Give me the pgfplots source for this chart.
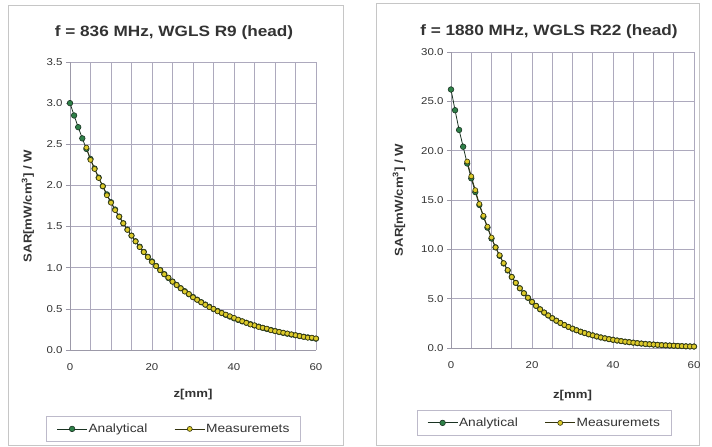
\documentclass[border=0pt]{standalone}
\usepackage{fontspec}
\setmainfont[FakeStretch=1.15]{Liberation Sans}
\usepackage{pgfplots}
\pgfplotsset{compat=1.18}
\usepackage{pgfplotstable}

\definecolor{anagreen}{HTML}{2E8048}
\definecolor{anaedge}{HTML}{1A3322}
\definecolor{measyel}{HTML}{DCCB2A}
\definecolor{measedge}{HTML}{33330F}
\definecolor{gridgray}{HTML}{ADA9BD}
\definecolor{axgray}{HTML}{9C99A8}
\definecolor{txtgray}{HTML}{333333}

% left panel: 836 MHz
\pgfplotstableread{
z ana meas
0 3.000 nan
1 2.850 nan
2 2.708 nan
3 2.572 nan
4 2.444 2.46
5 2.321 2.31
6 2.205 2.20
7 2.095 2.09
8 1.990 1.99
9 1.891 1.88
10 1.796 1.79
11 1.707 1.70
12 1.621 1.62
13 1.540 1.54
14 1.463 1.46
15 1.390 1.39
16 1.321 1.32
17 1.255 1.25
18 1.192 1.19
19 1.132 1.13
20 1.076 1.07
21 1.022 1.02
22 0.971 0.97
23 0.922 0.92
24 0.876 0.88
25 0.832 0.83
26 0.791 0.79
27 0.751 0.75
28 0.714 0.71
29 0.678 0.68
30 0.644 0.64
31 0.612 0.61
32 0.581 0.58
33 0.552 0.55
34 0.525 0.52
35 0.498 0.50
36 0.474 0.47
37 0.450 0.45
38 0.427 0.43
39 0.406 0.41
40 0.386 0.39
41 0.366 0.37
42 0.348 0.35
43 0.331 0.33
44 0.314 0.31
45 0.298 0.30
46 0.284 0.28
47 0.269 0.27
48 0.256 0.26
49 0.243 0.24
50 0.231 0.23
51 0.219 0.22
52 0.208 0.21
53 0.198 0.20
54 0.188 0.19
55 0.179 0.18
56 0.170 0.17
57 0.161 0.16
58 0.153 0.15
59 0.146 0.15
60 0.138 0.14
}\tableleft

% right panel: 1880 MHz
\pgfplotstableread{
z ana meas
0 26.20 nan
1 24.10 nan
2 22.10 nan
3 20.40 nan
4 18.70 18.9
5 17.20 17.4
6 15.80 16.0
7 14.50 14.6
8 13.30 13.4
9 12.20 12.3
10 11.10 11.2
11 10.20 10.2
12 9.35 9.40
13 8.57 8.60
14 7.86 7.90
15 7.20 7.20
16 6.60 6.60
17 6.05 6.05
18 5.55 5.55
19 5.09 5.10
20 4.67 4.67
21 4.27 4.27
22 3.92 3.92
23 3.59 3.60
24 3.30 3.30
25 3.02 3.02
26 2.77 2.77
27 2.54 2.54
28 2.33 2.33
29 2.14 2.14
30 1.96 1.96
31 1.80 1.80
32 1.65 1.65
33 1.52 1.52
34 1.39 1.39
35 1.28 1.28
36 1.17 1.17
37 1.07 1.07
38 0.98 0.98
39 0.90 0.90
40 0.83 0.83
41 0.76 0.76
42 0.70 0.70
43 0.64 0.64
44 0.59 0.59
45 0.54 0.54
46 0.49 0.49
47 0.45 0.45
48 0.41 0.41
49 0.38 0.38
50 0.35 0.35
51 0.32 0.32
52 0.29 0.29
53 0.27 0.27
54 0.25 0.25
55 0.23 0.23
56 0.21 0.21
57 0.19 0.19
58 0.17 0.17
59 0.16 0.16
60 0.15 0.15
}\tableright

\pgfplotsset{
  sarpanel/.style={
    scale only axis,
    anchor=south west,
    xmin=0, xmax=60, ymin=0,
    axis lines*=left,
    axis line style={draw=axgray, line width=0.7pt},
    xtick={0,20,40,60},
    minor x tick num=3,
    grid=both,
    major grid style={gridgray, line width=0.7pt},
    minor grid style={gridgray, line width=0.7pt},
    xtick style={draw=none},
    minor tick length=0pt,
    ytick style={draw=axgray, line width=0.7pt},
    tick align=outside,
    major tick length=4bp,
    ticklabel style={font=\fontsize{10}{11}\selectfont, text=txtgray},
    yticklabel style={/pgf/number format/.cd, fixed, fixed zerofill, precision=1, assume math mode=true},
    xticklabel style={/pgf/number format/assume math mode=true, yshift=-6bp},
    label style={font=\fontsize{11.5}{13}\selectfont\bfseries, text=txtgray},
    clip=false,
    legend columns=2,
    legend cell align=left,
    legend style={font=\fontsize{12}{13}\selectfont, text=txtgray, draw=gridgray!80, line width=0.7pt,
      anchor=center, /tikz/every even column/.append style={column sep=26bp},
      inner xsep=10bp, inner ysep=5bp,
      nodes={inner xsep=1bp}},
    legend image code/.code={\draw[mark repeat=2,mark phase=2] plot coordinates {(0bp,0bp)(15bp,0bp)(30bp,0bp)};},
  },
  anastyle/.style={color=anaedge, line width=0.8pt, mark=*, mark size=2.8bp,
    mark options={fill=anagreen, draw=anaedge, line width=0.6pt}},
  measstyle/.style={color=measedge, line width=0.8pt, mark=*, mark size=2.5bp,
    mark options={fill=measyel, draw=measedge, line width=0.6pt}},
}

\begin{document}
\begin{tikzpicture}
\path (0bp,0bp) rectangle (712bp,447bp);
\draw[gray!45, line width=0.8pt] (8bp,2bp) rectangle (343bp,442bp);
\draw[gray!45, line width=0.8pt] (376bp,2bp) rectangle (699bp,444bp);

\node[font=\fontsize{15}{17}\selectfont\bfseries, text=txtgray] at (174bp,414bp) {f = 836 MHz, WGLS R9 (head)};
\node[font=\fontsize{15}{17}\selectfont\bfseries, text=txtgray] at (549bp,415bp) {f = 1880 MHz, WGLS R22 (head)};

\begin{axis}[sarpanel,
    at={(70bp,97bp)}, width=246bp, height=288bp,
    ymax=3.5, ytick={0,0.5,...,3.5},
    xlabel={z[mm]}, ylabel={SAR[mW/cm\textsuperscript{3}] / W},
    xlabel style={at={(axis description cs:0.5,-0.156)}, anchor=center},
    ylabel style={at={(axis description cs:-0.171,0.5)}, anchor=center},
    legend style={at={(0.421,-0.274)}},
]
\addplot[anastyle] table[x=z, y=ana] {\tableleft};
\addlegendentry{Analytical}
\addplot[measstyle] table[x=z, y=meas] {\tableleft};
\addlegendentry{Measuremets}
\end{axis}

\begin{axis}[sarpanel,
    at={(451bp,99bp)}, width=243bp, height=296bp,
    ymax=30, ytick={0,5,...,30},
    xlabel={z[mm]}, ylabel={SAR[mW/cm\textsuperscript{3}] / W},
    xlabel style={at={(axis description cs:0.5,-0.159)}, anchor=center},
    ylabel style={at={(axis description cs:-0.214,0.5)}, anchor=center},
    legend style={at={(0.383,-0.253)}},
]
\addplot[anastyle] table[x=z, y=ana] {\tableright};
\addlegendentry{Analytical}
\addplot[measstyle] table[x=z, y=meas] {\tableright};
\addlegendentry{Measuremets}
\end{axis}
\end{tikzpicture}
\end{document}
